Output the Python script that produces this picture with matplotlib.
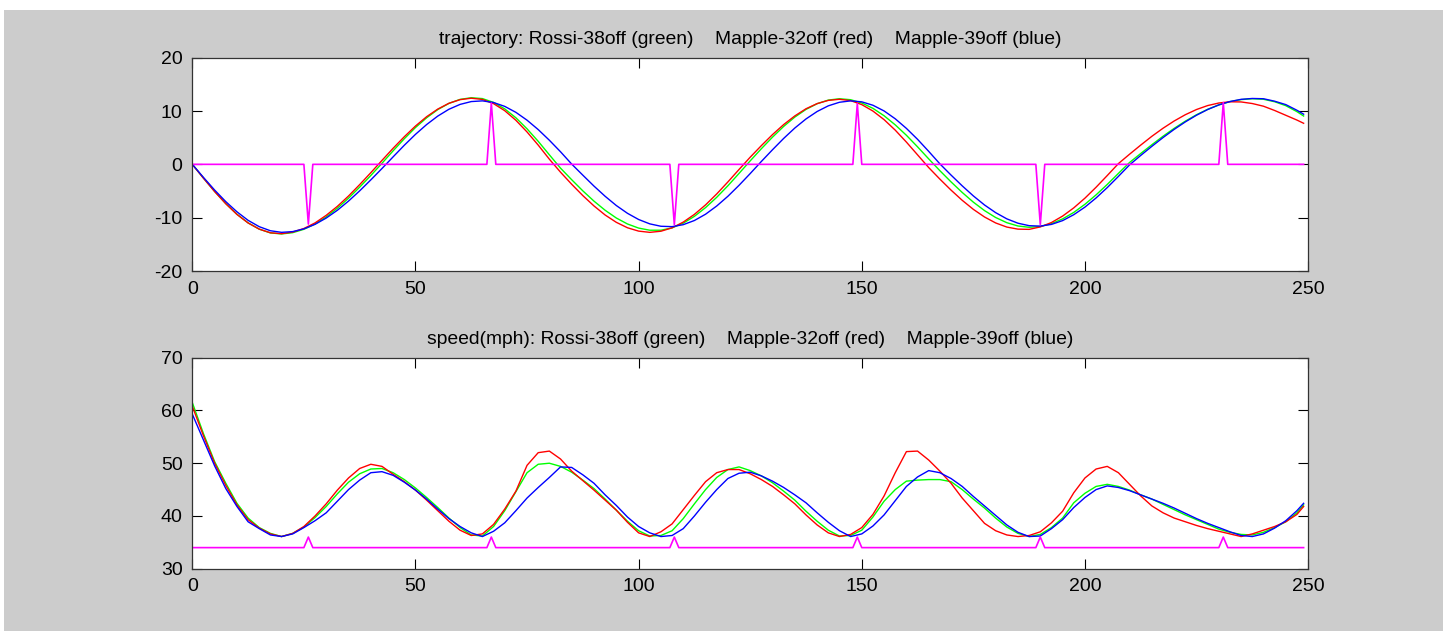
import matplotlib.pyplot as plt
from matplotlib.patches import Rectangle

# sample positions (every 2.5 steps, last sample at 249)
X = [i * 2.5 for i in range(100)] + [249]

# trajectory values
traj_green = [0, -2.58, -5.07, -7.36, -9.35, -10.97, -12.15, -12.86, -13.05, -12.81,
              -12.18, -11.18, -9.86, -8.22, -6.35, -4.27, -2.09, 0.20, 2.54, 4.80,
              6.90, 8.73, 10.27, 11.43, 12.18, 12.49, 12.33, 11.61, 10.40, 8.73,
              6.66, 4.32, 1.79, -0.71, -2.88, -4.97, -6.90, -8.61, -10.06, -11.18,
              -11.95, -12.35, -12.35, -11.91, -11.03, -9.75, -8.11, -6.18, -4.02, -1.70,
              0.65, 2.93, 5.10, 7.11, 8.86, 10.30, 11.37, 12.05, 12.30, 12.12,
              11.50, 10.50, 9.11, 7.40, 5.45, 3.28, 1.02, -1.19, -3.29, -5.27,
              -7.09, -8.67, -9.97, -10.94, -11.56, -11.80, -11.65, -11.13, -10.23, -9.01,
              -7.49, -5.72, -3.77, -1.70, 0.35, 2.03, 3.68, 5.27, 6.75, 8.10,
              9.30, 10.32, 11.15, 11.76, 12.14, 12.30, 12.20, 11.74, 11.0, 9.88,
              9.06]
traj_red = [0, -2.60, -5.10, -7.38, -9.39, -10.99, -12.15, -12.83, -13.0, -12.70,
            -12.03, -10.98, -9.56, -7.88, -5.94, -3.80, -1.56, 0.74, 3.02, 5.18,
            7.18, 8.93, 10.36, 11.45, 12.13, 12.40, 12.17, 11.38, 10.06, 8.26,
            6.07, 3.61, 0.97, -1.47, -3.73, -5.86, -7.80, -9.50, -10.87, -11.89,
            -12.52, -12.75, -12.54, -11.90, -10.83, -9.38, -7.60, -5.55, -3.30, -0.96,
            1.34, 3.51, 5.58, 7.46, 9.08, 10.42, 11.39, 11.99, 12.2, 11.95,
            11.2, 9.99, 8.38, 6.41, 4.17, 1.78, -0.61, -2.77, -4.83, -6.74,
            -8.44, -9.87, -10.99, -11.76, -12.15, -12.19, -11.73, -10.91, -9.70, -8.16,
            -6.34, -4.29, -2.10, 0.14, 1.90, 3.61, 5.26, 6.77, 8.13, 9.31,
            10.28, 11.02, 11.5, 11.73, 11.7, 11.4, 10.9, 10.1, 9.2, 8.3,
            7.7]
traj_blue = [0, -2.45, -4.82, -6.99, -8.90, -10.50, -11.69, -12.45, -12.75, -12.61,
             -12.1, -11.25, -10.07, -8.61, -6.89, -4.97, -2.91, -0.78, 1.41, 3.58,
             5.62, 7.46, 9.05, 10.33, 11.24, 11.77, 11.9, 11.59, 10.87, 9.75,
             8.28, 6.52, 4.52, 2.36, 0.05, -2.03, -4.08, -5.99, -7.72, -9.18,
             -10.34, -11.16, -11.61, -11.68, -11.31, -10.53, -9.35, -7.81, -5.99, -3.93,
             -1.73, 0.54, 2.74, 4.86, 6.81, 8.51, 9.91, 10.97, 11.64, 11.9,
             11.72, 11.08, 10.01, 8.54, 6.74, 4.69, 2.43, 0.09, -2.01, -4.03,
             -5.92, -7.62, -9.06, -10.22, -11.04, -11.50, -11.58, -11.26, -10.55, -9.44,
             -8.02, -6.30, -4.36, -2.26, -0.1, 1.67, 3.38, 5.02, 6.56, 7.96,
             9.21, 10.28, 11.14, 11.78, 12.19, 12.35, 12.3, 11.84, 11.2, 10.14,
             9.4]

# speed (mph)
speed_green = [61.5, 55.6, 50.3, 46.2, 42.4, 39.6, 37.8, 36.7, 36.1, 36.7,
               37.9, 39.7, 41.8, 44.2, 46.4, 48.0, 48.9, 49.0, 48.2, 46.9,
               45.3, 43.5, 41.6, 39.6, 37.8, 36.4, 36.2, 38.0, 41.0, 44.6,
               48.2, 49.8, 50.0, 49.4, 48.3, 46.8, 45.2, 43.2, 41.1, 39.0,
               37.2, 36.2, 36.3, 37.2, 39.5, 42.3, 45.0, 47.3, 48.8, 49.3,
               48.6, 47.6, 46.3, 44.7, 43.0, 40.9, 39.0, 37.3, 36.2, 36.3,
               37.3, 39.8, 42.8, 45.0, 46.6, 46.8, 46.9, 46.9, 46.5, 45.0,
               43.2, 41.5, 39.6, 37.9, 36.7, 36.1, 36.5, 37.8, 39.6, 42.5,
               44.3, 45.6, 46.0, 45.6, 44.9, 44.0, 43.2, 42.2, 41.2, 40.2,
               39.3, 38.4, 37.5, 36.9, 36.5, 36.4, 36.9, 37.8, 38.9, 40.6,
               42.1]
speed_red = [60.8, 55.2, 50.0, 45.8, 42.1, 39.3, 37.7, 36.6, 36.1, 36.7,
             38.0, 40.0, 42.3, 44.9, 47.2, 49.0, 49.8, 49.4, 47.9, 46.5,
             44.9, 43.0, 41.0, 39.0, 37.3, 36.3, 36.6, 38.4, 41.3, 44.7,
             49.6, 52.0, 52.3, 50.8, 48.5, 46.7, 44.9, 43.0, 41.1, 38.8,
             36.8, 36.1, 37.0, 38.5, 41.2, 43.9, 46.5, 48.2, 48.8, 48.8,
             48.0, 46.9, 45.6, 44.0, 42.3, 40.2, 38.3, 36.8, 36.1, 36.5,
             37.8, 40.3, 43.8, 48.2, 52.2, 52.3, 50.6, 48.5, 46.2, 43.4,
             41.0, 38.6, 37.2, 36.4, 36.1, 36.3, 37.0, 38.7, 40.9, 44.4,
             47.2, 48.9, 49.4, 48.2, 46.0, 43.8, 41.9, 40.6, 39.6, 38.9,
             38.2, 37.6, 37.1, 36.6, 36.1, 36.6, 37.3, 38.0, 38.9, 40.3,
             41.8]
speed_blue = [59.3, 54.4, 49.5, 45.2, 41.8, 38.9, 37.6, 36.4, 36.1, 36.6,
              37.8, 39.1, 40.6, 42.8, 45.0, 46.8, 48.2, 48.4, 47.7, 46.4,
              44.9, 43.2, 41.3, 39.5, 38.0, 36.8, 36.1, 37.1, 38.7, 41.0,
              43.4, 45.4, 47.3, 49.3, 49.2, 47.8, 46.2, 44.0, 42.0, 39.8,
              38.0, 36.8, 36.1, 36.3, 37.6, 40.0, 42.6, 45.0, 47.1, 48.1,
              48.3, 47.6, 46.6, 45.4, 44.0, 42.5, 40.6, 38.8, 37.2, 36.1,
              36.6, 38.1, 40.2, 42.9, 45.6, 47.4, 48.6, 48.2, 47.1, 45.6,
              43.7, 41.9, 40.1, 38.3, 36.9, 36.1, 36.2, 37.6, 39.3, 41.6,
              43.5, 45.0, 45.7, 45.4, 44.8, 44.0, 43.2, 42.4, 41.5, 40.5,
              39.5, 38.6, 37.8, 37.0, 36.3, 36.1, 36.6, 37.7, 39.1, 41.0,
              42.4]

# impact markers (magenta)
spike_x = [26, 67, 108, 149, 190, 231]
traj_spike = [-11.2, 11.5, -11.3, 11.4, -11.3, 11.6]
traj_base = 0
speed_spike = [36, 36, 36, 36, 36, 36]
speed_base = 34
x_last = 249

titles = ["trajectory: Rossi-38off (green)    Mapple-32off (red)    Mapple-39off (blue)",
          "speed(mph): Rossi-38off (green)    Mapple-32off (red)    Mapple-39off (blue)"]


def spike_line(base, values):
    xs, ys = [0], [base]
    for s, v in zip(spike_x, values):
        xs += [s - 1, s, s + 1]
        ys += [base, v, base]
    xs.append(x_last)
    ys.append(base)
    return xs, ys


plt.rcParams['font.family'] = ['Liberation Sans', 'DejaVu Sans']
plt.rcParams['axes.unicode_minus'] = False

fig = plt.figure(figsize=(14.47, 6.31), dpi=100, facecolor='white')
# grey window area (thin white strip on the left/top/right)
fig.patches.append(Rectangle((4 / 1447, 0), 1439 / 1447, 621 / 631,
                             transform=fig.transFigure, facecolor='#cccccc',
                             edgecolor='none', zorder=-10))

ax1 = fig.add_axes([0.1329, 0.5705, 0.7711, 0.3381])
ax2 = fig.add_axes([0.1329, 0.0987, 0.7711, 0.3344])

panels = [
    (ax1, traj_green, traj_red, traj_blue, spike_line(traj_base, traj_spike), (-20, 20)),
    (ax2, speed_green, speed_red, speed_blue, spike_line(speed_base, speed_spike), (30, 70)),
]

for i, (ax, g, r, b, (mx, my), ylim) in enumerate(panels):
    ax.set_facecolor('white')
    ax.plot(X, g, color='#00ff00', lw=1.0)
    ax.plot(X, r, color='#ff0000', lw=1.0)
    ax.plot(X, b, color='#0000ff', lw=1.0)
    ax.plot(mx, my, color='#ff00ff', lw=1.2)
    ax.set_xlim(0, 250)
    ax.set_ylim(*ylim)
    ax.set_xticks([0, 50, 100, 150, 200, 250])
    ax.set_yticks(range(ylim[0], ylim[1] + 1, 10))
    ax.tick_params(direction='in', length=7, width=0.8, top=True, right=True,
                   labelsize=14, pad=7, colors='black')
    for sp in ax.spines.values():
        sp.set_linewidth(0.9)
        sp.set_color('#333333')
    ax.set_title(titles[i], fontsize=13.9, pad=10)

fig.savefig('out.png', dpi=100, facecolor=fig.get_facecolor())
